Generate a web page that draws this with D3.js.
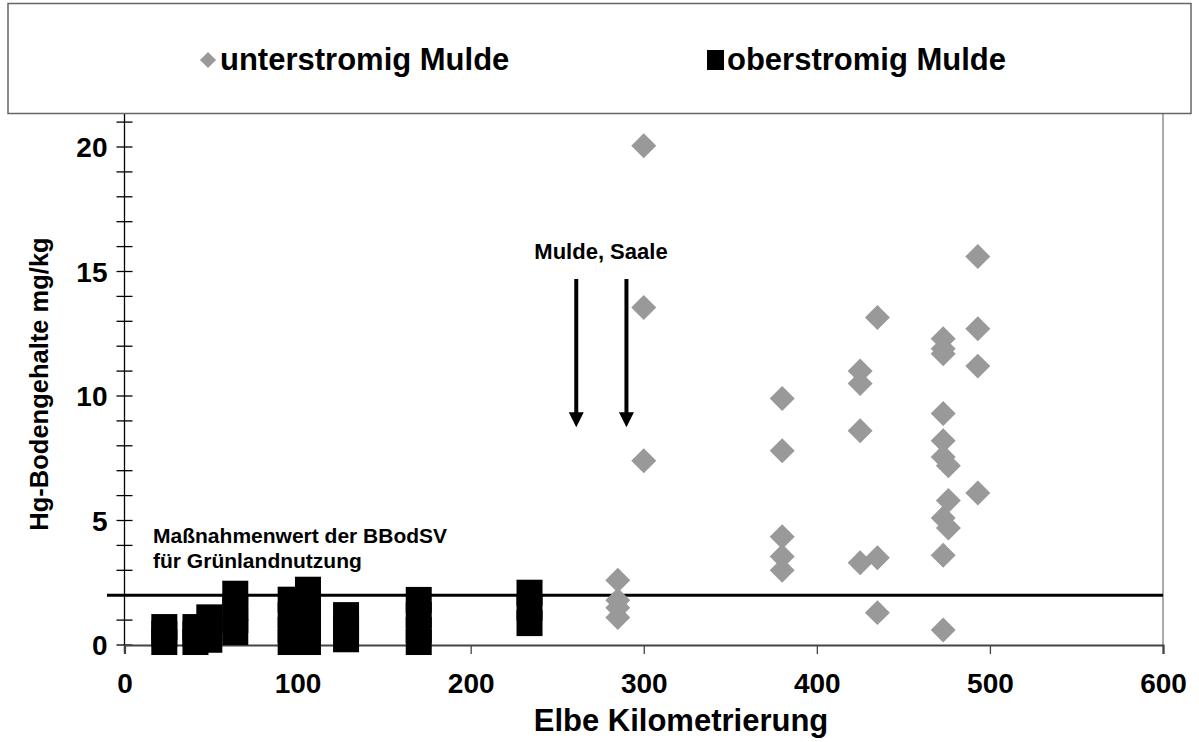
<!DOCTYPE html>
<html><head><meta charset="utf-8">
<script src="https://cdn.jsdelivr.net/npm/d3@7"></script>
<style>body{margin:0;background:#fff}svg{display:block}text{font-family:Arial,"Liberation Sans",sans-serif;font-weight:700}</style>
</head><body>
<svg id="c" width="1199" height="742"></svg>
<script>
// Data
const xTicks = [0,100,200,300,400,500,600];
const yTicks = [0,5,10,15,20];
const seriesNames = ["unterstromig Mulde","oberstromig Mulde"];
// unterstromig Mulde (grey diamonds)
const underKm = [285,285,285,285, 300,300,300, 380,380,380,380,380, 425,425,425,425, 435,435,435,
  473,473,473,473,473,473,473,473,473, 476,476,476, 493,493,493,493];
const underHg = [2.6,1.8,1.5,1.1, 20.05,13.55,7.4, 9.9,7.8,4.35,3.55,3.0, 11.0,10.5,8.6,3.3, 13.15,3.5,1.3,
  12.3,11.9,11.7,9.3,8.2,7.55,5.1,3.6,0.6, 7.2,5.8,4.7, 15.6,12.7,11.2,6.1];
// oberstromig Mulde (black squares)
const overKm = [23,23,23, 41,41,41, 49,49,49, 64,64,64,64, 96,96,96,96, 106,106,106,106,106, 128,128,128, 170,170,170,170, 234,234,234];
const overHg = [0.12,0.45,0.72, 0.12,0.45,0.72, 0.21,0.7,1.11, 0.52,1.0,1.5,2.06, 0.12,0.6,1.2,1.82, 0.12,0.6,1.1,1.7,2.22, 0.23,0.7,1.2, 0.12,0.6,1.2,1.81, 0.88,1.5,2.1];
const threshold = 2;
const arrowKm = [261, 290];
const arrowFrom = 14.7, arrowTo = 8.75;

const svg = d3.select("#c");
const x = d3.scaleLinear().domain([0,600]).range([124.5,1163]);
const y = d3.scaleLinear().domain([0,22]).range([645, 645-22*24.9]);

// right border of plot
svg.append("line").attr("x1",1163).attr("x2",1163).attr("y1",y(22)).attr("y2",645).attr("stroke","#555").attr("stroke-width",1);

// y axis with minor ticks
const yAxisG = svg.append("g").attr("transform","translate(124.5,0)");
yAxisG.append("line").attr("y1",y(22)).attr("y2",652).attr("stroke","#000").attr("stroke-width",1.3);
yAxisG.selectAll("line.t").data(d3.range(0,23)).join("line").attr("class","t")
  .attr("x1",-8).attr("x2",8).attr("y1",d=>y(d)).attr("y2",d=>y(d)).attr("stroke","#000").attr("stroke-width",1.3);
yAxisG.selectAll("text").data(yTicks).join("text")
  .attr("x",-17).attr("y",d=>y(d)).attr("dy","0.36em").attr("text-anchor","end")
  .attr("font-size",28).text(d=>d);

// x axis
const xAxis = d3.axisBottom(x).tickValues(xTicks).tickSize(9).tickFormat(d=>d);
const xg = svg.append("g").attr("transform","translate(0,645)").call(xAxis);
xg.select(".domain").attr("stroke","#444").attr("stroke-width",2.2);
xg.selectAll(".tick line").attr("stroke","#444").attr("stroke-width",1.3);
xg.selectAll(".tick text").attr("font-size",28).attr("font-family","Arial, Liberation Sans, sans-serif").attr("font-weight","700").attr("fill","#000").attr("y",48).attr("dy",0);

// threshold line
svg.append("line").attr("x1",107).attr("x2",1163).attr("y1",y(threshold)).attr("y2",y(threshold)).attr("stroke","#000").attr("stroke-width",3);

// squares
svg.append("g").selectAll("rect").data(overKm.map((k,i)=>[k,overHg[i]])).join("rect")
  .attr("x",d=>x(d[0])-13).attr("y",d=>y(d[1])-13).attr("width",26).attr("height",26).attr("fill","#000");

// diamonds
const dsym = d3.symbol().type(d3.symbolSquare).size(312);
svg.append("g").selectAll("path").data(underKm.map((k,i)=>[k,underHg[i]])).join("path")
  .attr("d",dsym).attr("transform",d=>`translate(${x(d[0])},${y(d[1])}) rotate(45)`).attr("fill","#999");

// arrows
arrowKm.forEach(k=>{
  const ax=x(k);
  svg.append("line").attr("x1",ax).attr("x2",ax).attr("y1",y(arrowFrom)).attr("y2",y(arrowTo)-10).attr("stroke","#000").attr("stroke-width",4);
  svg.append("path").attr("d",`M${ax-7.5},${y(arrowTo)-15}L${ax+7.5},${y(arrowTo)-15}L${ax},${y(arrowTo)}Z`).attr("fill","#000");
});
svg.append("text").attr("x",x(275.3)).attr("y",y(15.5)).attr("text-anchor","middle").attr("font-size",22).text("Mulde, Saale");
svg.append("text").attr("x",x(16.5)).attr("y",y(4.1)).attr("font-size",21).text("Maßnahmenwert der BBodSV");
svg.append("text").attr("x",x(16.5)).attr("y",y(3.1)).attr("font-size",21).text("für Grünlandnutzung");

// axis titles
svg.append("text").attr("x",681).attr("y",731).attr("text-anchor","middle").attr("font-size",31).text("Elbe Kilometrierung");
svg.append("text").attr("transform","translate(48,384) rotate(-90)").attr("text-anchor","middle").attr("font-size",25.5).text("Hg-Bodengehalte mg/kg");

// legend
svg.append("rect").attr("x",8).attr("y",3.5).attr("width",1183).attr("height",110).attr("fill","#fff").attr("stroke","#666").attr("stroke-width",1.5);
svg.append("path").attr("d",d3.symbol().type(d3.symbolSquare).size(130)).attr("transform","translate(208,60) rotate(45)").attr("fill","#999");
svg.append("text").attr("x",220).attr("y",70).attr("font-size",31).text(seriesNames[0]);
svg.append("rect").attr("x",707).attr("y",50).attr("width",17).attr("height",20).attr("fill","#000");
svg.append("text").attr("x",727).attr("y",70).attr("font-size",31).text(seriesNames[1]);
</script>
</body></html>
